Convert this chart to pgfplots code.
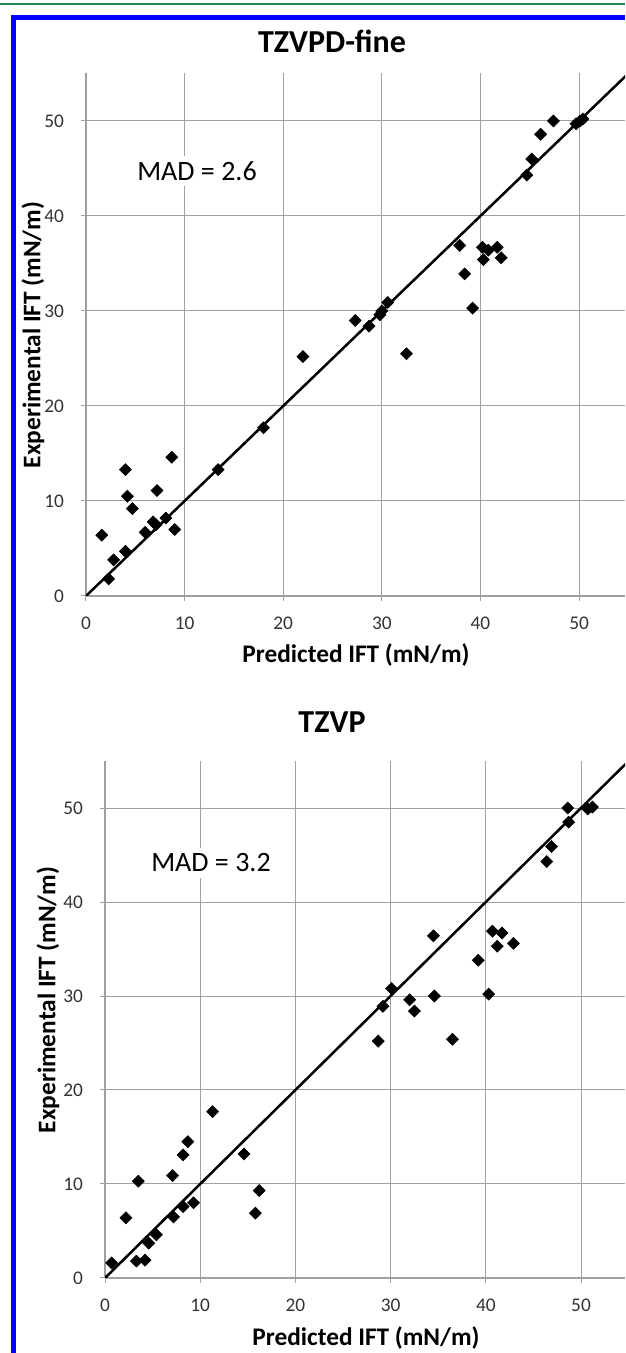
\documentclass[border=0pt]{standalone}
\usepackage{fontspec}
\setmainfont{Carlito}
\usepackage{pgfplots}
\pgfplotsset{compat=1.18}
\definecolor{bordBlue}{HTML}{0000FF}
\definecolor{topGreen}{HTML}{1F8A4C}
\definecolor{gridGrey}{HTML}{A0A0A0}

\newcommand{\tickfont}{\fontsize{14.5}{16}\selectfont}

% shared look of both panels (Excel-like scatter with 1:1 line)
\pgfplotsset{ift/.style={
    scale only axis,
    xmin=0, ymin=0, ymax=55,
    xtick={0,10,...,50}, ytick={0,10,...,50},
    axis lines=left,
    axis line style={-, draw=gridGrey, line width=0.9pt},
    grid=major,
    grid style={draw=gridGrey, line width=0.75pt},
    tick align=outside, major tick length=4pt,
    tick style={draw=gridGrey, line width=0.75pt},
    /pgf/number format/assume math mode=true,
    xticklabel style={font=\tickfont, text=black!80, yshift=-8pt},
    yticklabel style={font=\tickfont, text=black!80, xshift=-9pt},
}}

\begin{document}
\begin{tikzpicture}[x=0.75pt, y=0.75pt]
\fill[white] (0,0) rectangle (625,1353);
\path[use as bounding box] (0,0) rectangle (625,1353);
\coordinate (topO) at (86,757);
\coordinate (botO) at (105,75);

% --- top panel: TZVPD-fine ---
\begin{axis}[ift, at={(topO)}, anchor=origin,
    width=404.25pt, height=391.9pt, xmax=54.66]
\addplot[black, line width=1.9pt] coordinates {(0,0) (56,56)};
\addplot[only marks, mark=square*, mark size=3.2pt,
         mark options={rotate=45, fill=black, draw=black}]
    coordinates {
    (1.6,6.4) (2.3,1.8) (2.8,3.8) (4.0,4.7) (4.0,13.3) (4.2,10.5)
    (4.7,9.2) (6.0,6.7) (6.8,7.8) (7.1,7.5) (7.2,11.1) (8.1,8.2)
    (8.7,14.6) (9.0,7.0) (13.4,13.3) (18.0,17.7) (22.0,25.2)
    (27.3,29.0) (28.7,28.4) (29.8,29.6) (30.0,30.0) (30.6,30.9)
    (32.5,25.5) (37.9,36.9) (38.4,33.9) (39.2,30.3) (40.2,36.7)
    (40.3,35.4) (40.8,36.4) (41.7,36.7) (42.1,35.6) (44.7,44.3)
    (45.2,46.0) (46.1,48.6) (47.4,50.0) (49.7,49.7) (50.1,50.0)
    (50.4,50.2)
    };
\end{axis}

% --- bottom panel: TZVP ---
\begin{axis}[ift, at={(botO)}, anchor=origin,
    width=390pt, height=387.75pt, xmax=54.62]
\addplot[black, line width=1.9pt] coordinates {(0,0) (56,56)};
\addplot[only marks, mark=square*, mark size=3.2pt,
         mark options={rotate=45, fill=black, draw=black}]
    coordinates {
    (0.7,1.6) (2.2,6.4) (3.3,1.8) (4.2,1.9) (3.5,10.3) (4.6,3.7)
    (5.4,4.6) (7.1,10.9) (7.2,6.5) (8.2,7.6) (9.3,8.0) (8.2,13.1)
    (8.7,14.5) (11.3,17.7) (14.6,13.2) (16.2,9.3) (15.8,6.9)
    (28.7,25.2) (29.2,28.9) (30.1,30.8) (32.0,29.6) (32.5,28.4)
    (34.6,30.0) (34.5,36.4) (36.5,25.4) (39.2,33.8) (40.3,30.2)
    (40.7,36.9) (41.2,35.3) (41.7,36.7) (42.9,35.6) (46.4,44.3)
    (46.9,45.9) (48.6,50.0) (48.7,48.5) (50.7,49.9) (51.2,50.1)
    };
\end{axis}

% --- titles, axis labels, MAD boxes ---
\node[font=\bfseries\fontsize{24}{26}\selectfont] at (332,1312) {TZVPD-fine};
\node[font=\bfseries\fontsize{24}{26}\selectfont] at (332,631) {TZVP};
\node[font=\bfseries\fontsize{19}{21}\selectfont] at (356,698) {Predicted IFT (mN/m)};
\node[font=\bfseries\fontsize{19}{21}\selectfont] at (366,15) {Predicted IFT (mN/m)};
\node[font=\bfseries\fontsize{19}{21}\selectfont, rotate=90] at (33,1018) {Experimental IFT (mN/m)};
\node[font=\bfseries\fontsize{19}{21}\selectfont, rotate=90] at (48,353) {Experimental IFT (mN/m)};
\node[fill=white, inner sep=4pt, font=\fontsize{21}{23}\selectfont] at (197,1182) {MAD = 2.6};
\node[fill=white, inner sep=4pt, font=\fontsize{21}{23}\selectfont] at (211,490) {MAD = 3.2};

% --- page frame: green rule and blue border ---
\fill[topGreen] (0,1348) rectangle (625,1350);
\fill[bordBlue] (11,0) rectangle (16,1338);
\fill[bordBlue] (11,1333) rectangle (625,1338);
\end{tikzpicture}
\end{document}
